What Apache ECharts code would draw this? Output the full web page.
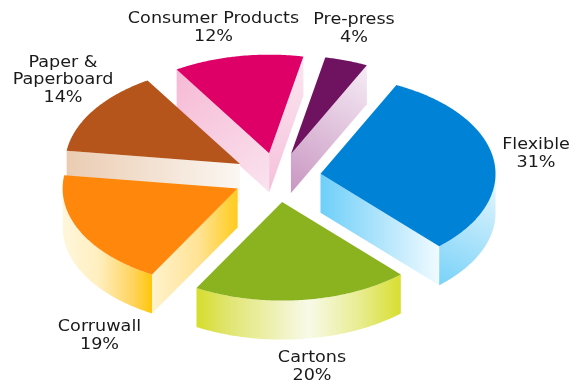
<!DOCTYPE html>
<html>
<head>
<meta charset="utf-8">
<style>html,body{margin:0;padding:0;background:#fff}#chart{width:575px;height:384px}</style>
<script src="https://cdn.jsdelivr.net/npm/echarts@6/dist/echarts.min.js"></script>
</head>
<body>
<div id="chart"></div>
<script>
// Market share by segment, clockwise from the first slice.
const categories = ['Flexible', 'Cartons', 'Corruwall', 'Paper &\nPaperboard', 'Consumer Products', 'Pre-press'];
const shares = [31, 20, 19, 14, 12, 4];

// Flat fill of each slice's top face.
const topColors = ['#0082D6', '#8BB31F', '#FF870B', '#B6551B', '#DE0066', '#6F1360'];

// Gradient of a side wall: [x, y, x2, y2, ...stops as [offset, colour]].
const grad = (x, y, x2, y2, stops) => ({
  type: 'linear', x, y, x2, y2, global: false,
  colorStops: stops.map(s => ({ offset: s[0], color: s[1] }))
});
// Walls that can be seen on each slice: radial wall at its first edge, at its last edge, and the rim.
const wallFills = [
  { last: grad(0, 0, 1, 0, [[0, '#6ECFF9'], [1, '#F0FAFF']]),
    rim: grad(0, 1, 1, 0, [[0, '#78D2F8'], [1, '#EAF7FE']]) },
  { rim: grad(0, 0, 1, 0, [[0, '#D6DD2C'], [0.15, '#E0E56E'], [0.55, '#F8FAE8'], [0.8, '#E8EC8F'], [1, '#D8DE30']]) },
  { first: grad(0, 0, 1, 0, [[0, '#FFF2CC'], [0.55, '#FFE394'], [1, '#FFCB1C']]),
    rim: grad(0, 0, 1, 0, [[0, '#FFF6DC'], [0.4, '#FFEFC0'], [0.8, '#FFD35A'], [1, '#FFC60A']]) },
  { first: grad(0, 0, 1, 0, [[0, '#EBCCB2'], [1, '#FBF7F2']]) },
  { first: grad(0, 0, 1, 1, [[0, '#F6B9D5'], [1, '#FAE3EE']]),
    last: grad(0, 0, 0, 1, [[0, '#FBE8F1'], [1, '#F6BFDB']]) },
  { last: grad(0, 1, 1, 0, [[0, '#C996C2'], [1, '#F6ECF5']]) }
];

// Where each caption sits: centre x and centre y of its text block.
const captionCentres = [[536, 154], [312, 367], [99.5, 336], [63, 80], [213.5, 28], [354, 29]];

// Projection of the tilted pie.
const CX = 277, CY = 177.5, RX = 175, RY = 98.5, DEPTH = 39, EXPLODE = 44, START_DEG = 64.3;

const total = shares.reduce((a, b) => a + b, 0);
const project = (deg, r, ox, oy, dy) => {
  const t = deg * Math.PI / 180;
  return [ox + RX * r * Math.cos(t), oy - RY * r * Math.sin(t) + (dy || 0)];
};

function renderSlice(params, api) {
  const i = params.dataIndex;
  let before = 0;
  for (let k = 0; k < i; k++) before += shares[k];
  const a0 = START_DEG - before / total * 360;
  const a1 = a0 - api.value(0) / total * 360;
  const mid = (a0 + a1) / 2;
  const apex = project(mid, EXPLODE / RX, CX, CY);
  const ox = apex[0], oy = apex[1];
  const base = Math.round(oy) * 10;
  const children = [];

  const arc = (from, to) => {
    const n = Math.max(2, Math.ceil(Math.abs(from - to) * 2));
    const pts = [];
    for (let s = 0; s <= n; s++) pts.push(project(from + (to - from) * s / n, 1, ox, oy));
    return pts;
  };
  const wall = (pts, fill, z) => {
    const lower = pts.slice().reverse().map(p => [p[0], p[1] + DEPTH]);
    children.push({ type: 'polygon', z2: base + z, shape: { points: pts.concat(lower) },
      style: { fill, stroke: null } });
  };
  const fills = wallFills[i];
  if (fills.first) wall([[ox, oy], project(a0, 1, ox, oy)], fills.first, 1);
  if (fills.last) wall([[ox, oy], project(a1, 1, ox, oy)], fills.last, 2);
  if (fills.rim) {
    // Only the lower half of the rim faces the viewer.
    const k = Math.floor((a0 + 180) / 360);
    const hiHalf = 360 * k, loHalf = hiHalf - 180;
    const from = Math.min(a0, hiHalf), to = Math.max(a1, loHalf);
    wall(arc(from, to), fills.rim, 3);
  }
  children.push({ type: 'polygon', z2: base + 5,
    shape: { points: [[ox, oy]].concat(arc(a0, a1)) },
    style: { fill: topColors[i], stroke: null } });

  const c = captionCentres[i];
  children.push({ type: 'text', z2: 9000, x: c[0], y: c[1], scaleX: 1.1, style: {
    text: categories[i] + '\n' + api.value(0) + '%',
    font: '16px "DejaVu Sans"', lineHeight: 17.5, fill: '#1a1a1a',
    textAlign: 'center', textVerticalAlign: 'middle', align: 'center', verticalAlign: 'middle'
  } });
  return { type: 'group', children };
}

const chart = echarts.init(document.getElementById('chart'), null, { renderer: 'canvas' });
chart.setOption({
  animation: false,
  backgroundColor: '#fff',
  series: [{
    type: 'custom',
    coordinateSystem: 'none',
    silent: true,
    renderItem: renderSlice,
    data: shares.map((v, i) => ({ name: categories[i], value: [v] }))
  }]
});
</script>
</body>
</html>
